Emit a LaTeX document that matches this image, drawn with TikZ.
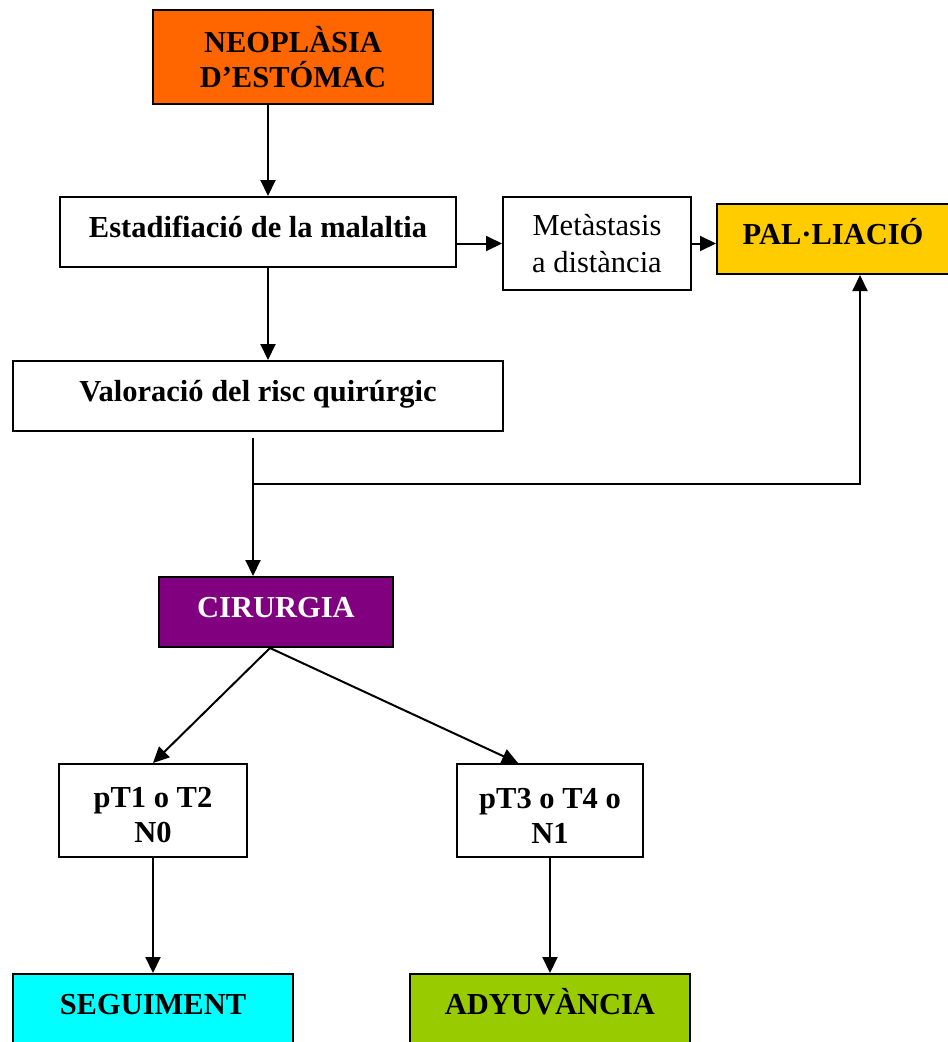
\documentclass[tikz,border=0pt]{standalone}
\usepackage{fontspec}
\setmainfont{Liberation Serif}
\usetikzlibrary{arrows.meta,calc}
\definecolor{cOrange}{HTML}{FF6600}
\definecolor{cGold}{HTML}{FFCC00}
\definecolor{cPurple}{HTML}{800080}
\definecolor{cCyan}{HTML}{00FFFF}
\definecolor{cGreen}{HTML}{99CC00}
\tikzset{
  boxnode/.style={draw=black, line width=2pt, inner sep=0pt, align=center,
    font=\fontsize{30.5}{35}\selectfont\bfseries},
  oneline/.style={boxnode, text height=20pt, text depth=10pt},
  plainbox/.style={boxnode, font=\fontsize{30.5}{37}\selectfont},
  conn/.style={line width=2pt, draw=black},
  arr/.style={conn, -{Triangle[length=16pt,width=15pt]}}
}
\begin{document}
\begin{tikzpicture}[x=1pt,y=-1pt]
\useasboundingbox (0,0) rectangle (948,1042);
\clip (0,0) rectangle (948,1042);
\fill[white] (0,0) rectangle (948,1042);

\node[boxnode, fill=cOrange, minimum width=280pt, minimum height=94pt] (neo) at (293,57) {NEOPLÀSIA\\D’ESTÓMAC};
\node[oneline, minimum width=396pt, minimum height=70pt] (est) at (258,232) {Estadifiació de la malaltia};
\node[plainbox, minimum width=188pt, minimum height=93pt] (met) at (597,243.5) {Metàstasis\\a distància};
\node[oneline, fill=cGold, minimum width=232pt, minimum height=70pt] (pal) at (833,239) {PAL·LIACIÓ};
\node[oneline, minimum width=490pt, minimum height=70pt] (val) at (258,396) {Valoració del risc quirúrgic};
\node[oneline, fill=cPurple, text=white, minimum width=234pt, minimum height=70pt] (cir) at (276,612) {CIRURGIA};
\node[boxnode, minimum width=188pt, minimum height=93pt] (pt1) at (153,810.5) {\rule{0pt}{30pt}pT1 o T2\\N0};
\node[boxnode, minimum width=186pt, minimum height=93pt] (pt3) at (550,810.5) {\rule{0pt}{30pt}pT3 o T4 o\\N1};
\node[oneline, fill=cCyan, minimum width=280pt, minimum height=70pt] (seg) at (153,1009) {SEGUIMENT};
\node[oneline, fill=cGreen, minimum width=280pt, minimum height=70pt] (ady) at (550,1009) {ADYUVÀNCIA};

\coordinate (c1) at (268,0);
\coordinate (c2) at (253,0);
\coordinate (k) at (860,0);
\coordinate (j) at (253,484);
\coordinate (cs) at ($(cir.south)+(-6,0)$);
\coordinate (t3) at ($(pt3.north)+(-32,0)$);

\draw[arr] (c1 |- neo.south) -- (c1 |- est.north);
\draw[arr] (est.east |- met.west) -- (met.west);
\draw[arr] (met.east) -- (met.east -| pal.west);
\draw[arr] (c1 |- est.south) -- (c1 |- val.north);
\draw[arr] ($(c2 |- val.south)+(0,6)$) -- (c2 |- cir.north);
\draw[arr] (j) -| (k |- pal.south);
\draw[arr] (cs) -- (pt1.north);
\draw[arr] (cs) -- (t3);
\draw[arr] (pt1.south) -- (seg.north);
\draw[arr] (pt3.south) -- (ady.north);
\end{tikzpicture}
\end{document}
